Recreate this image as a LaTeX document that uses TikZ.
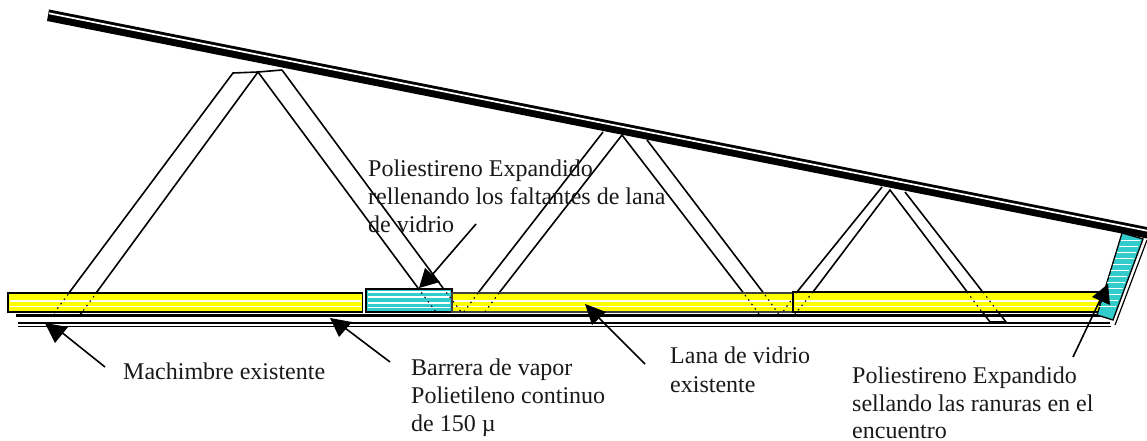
\documentclass[tikz,border=0pt]{standalone}
\usepackage{fontspec}
\setmainfont{Liberation Serif}
\tikzset{
  x=1pt,y=-1pt,
  strut/.style={black,line width=1.6pt},
  hid/.style={black,line width=1.1pt,dash pattern=on 1.5pt off 4pt},
  panel/.style={draw=black,line width=1.8pt},
  stripe/.style={white,line width=1.1pt},
  lab/.style={anchor=base west,inner sep=0pt,text=black!90,font=\fontsize{24pt}{28pt}\selectfont},
  lead/.style={black,line width=1.6pt},
  headfill/.style={fill=black,draw=none}
}
\definecolor{yel}{RGB}{255,255,0}
\definecolor{blu}{RGB}{51,204,204}
\begin{document}
\begin{tikzpicture}
\useasboundingbox (0,0) rectangle (1147,441);
% struts
\draw[strut] (54,313)--(233,73)--(258,72)--(282,70);
\draw[strut] (80,315)--(258,72)--(418,288);
\draw[strut] (282,70)--(443,288);
\draw[strut] (478,293)--(603,132);
\draw[strut] (499,293)--(622,135)--(745,295);
\draw[strut] (647,140)--(765,295);
\draw[strut] (797,292)--(882,187);
\draw[strut] (813,292)--(890,190)--(990,322)--(1006,322)--(905,192);
% roof
\fill[black] (49,9.5)--(1147,227)--(1147,238.5)--(47,21)--cycle;
\draw[white,line width=1.7pt] (49,13.3)--(1147,230.7);
% panels
\filldraw[panel,fill=yel] (8,293) rectangle (362.5,312);
\filldraw[panel,fill=blu] (366,289) rectangle (452,312);
\filldraw[panel,draw=black!75,line width=1.3pt,fill=yel] (452,293) rectangle (793,312);
\filldraw[panel,fill=yel] (793,292) rectangle (1100,312);
\foreach \yy in {301,306.5}{\draw[stripe] (10,\yy)--(361,\yy);\draw[stripe] (453,\yy)--(792,\yy);\draw[stripe] (795,\yy)--(1098,\yy);}
\foreach \yy in {292,297,303,307.5}{\draw[stripe] (368,\yy)--(450,\yy);}
% hidden parts of struts
\draw[hid] (418,288)--(436,312);
\draw[hid] (443,288)--(462,313);
\draw[hid] (478,293)--(463,313);
\draw[hid] (499,293)--(484,313);
\draw[hid] (745,295)--(759,314);
\draw[hid] (765,295)--(780,316);
\draw[hid] (797,292)--(780,316);
\draw[hid] (813,292)--(795,314);
\draw[hid] (54,313)--(70,292);
\draw[hid] (80,315)--(97,292);
\draw[hid] (967,292)--(982,312);
\draw[hid] (983,292)--(998,312);
% base lines
\draw[black,line width=2.2pt] (16,315.5)--(1100,315.5);
\draw[black,line width=1.2pt] (18,323)--(1110,323);
\draw[black,line width=1.2pt] (18,326.3)--(1111,326.3);
% end blue piece
\filldraw[draw=black,line width=1.3pt,fill=blu] (1122,233)--(1143,239)--(1113,320)--(1097,315)--cycle;
\foreach \yy/\a/\b in {240/1120.5/1140,246/1118.5/1138,252/1116.5/1135.5,258/1114.5/1133.5,264/1112.5/1131,270/1110.5/1129,276/1108.5/1127,282/1106.5/1125,288/1104.5/1123,294/1103/1120.5,300/1101/1118,306/1099/1116}{\draw[white,line width=1pt] (\a,\yy)--(\b,\yy);}
\draw[black,line width=1.2pt] (1147,240)--(1115,325);
% labels
\node[lab] (t1) at (368,176) {Poliestireno Expandido};
\node[lab] (t2) at (368,204) {rellenando los faltantes de lana};
\node[lab] (t3) at (368,232) {de vidrio};
\node[lab] (m) at (123,379) {Machimbre existente};
\node[lab] (b1) at (411,375) {Barrera de vapor};
\node[lab] (b2) at (411,403) {Polietileno continuo};
\node[lab] (b3) at (411,431) {de 150 µ};
\node[lab] (l1) at (670,363) {Lana de vidrio};
\node[lab] (l2) at (670,392) {existente};
\node[lab] (p1) at (852,383) {Poliestireno Expandido};
\node[lab] (p2) at (852,411) {sellando las ranuras en el};
\node[lab] (p3) at (852,438.5) {encuentro};
% leaders
\coordinate (a1) at (105,367);
\coordinate (a2) at (390,362);
\coordinate (a3) at (645,364);
\coordinate (a4) at (1073,357);
\coordinate (a5) at (476,224);
\draw[lead] (a1)--(55,327);
\fill[headfill] (45,323)--(68,327)--(55,343)--cycle;
\draw[lead] (a2)--(345,328);
\fill[headfill] (330,318)--(352,322)--(339,337)--cycle;
\draw[lead] (a3)--(599,318);
\fill[headfill] (585,304)--(606,312)--(592,325)--cycle;
\draw[lead] (a4)--(1102,296);
\fill[headfill] (1108,284)--(1092,297)--(1110,305)--cycle;
\draw[lead] (a5)--(432,275);
\fill[headfill] (419,288)--(425,268)--(440,282)--cycle;
\end{tikzpicture}
\end{document}
